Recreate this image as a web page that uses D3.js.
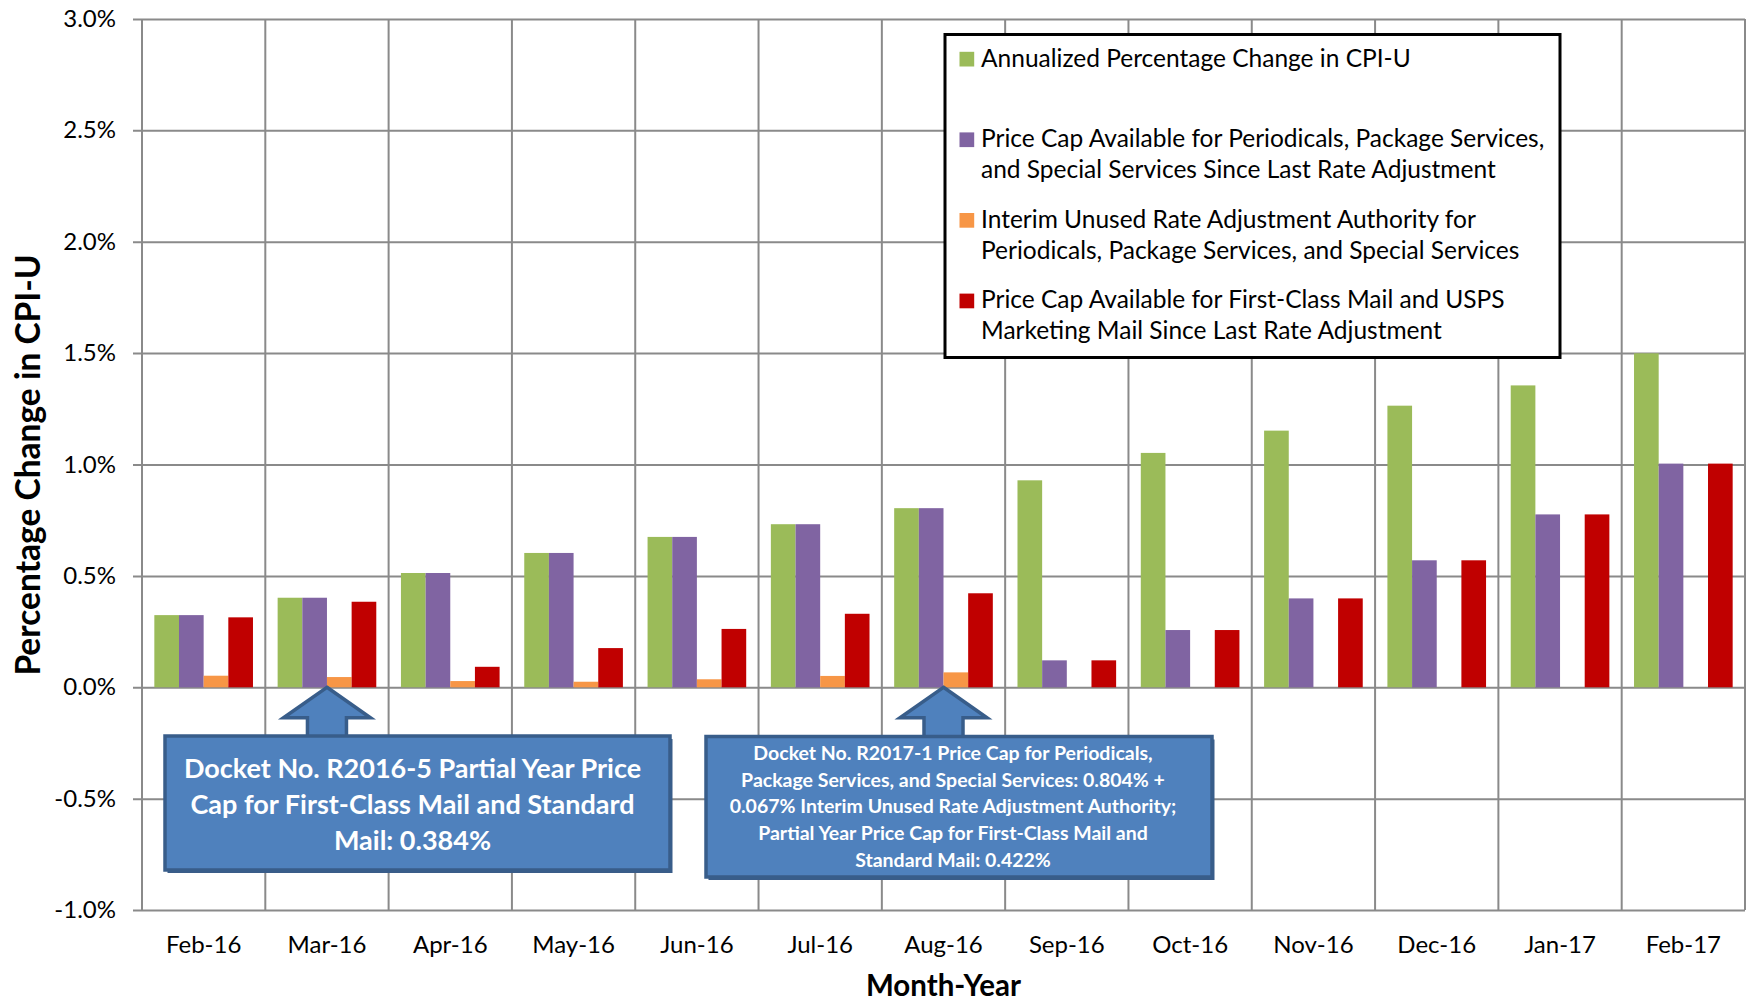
<!DOCTYPE html>
<html>
<head>
<meta charset="utf-8">
<script src="https://d3js.org/d3.v7.min.js"></script>
<style>
  body { margin: 0; background: #fff; }
  svg text { font-family: Lato, "Open Sans", sans-serif; }
</style>
</head>
<body>
<div id="chart"></div>
<script>
const months = ["Feb-16", "Mar-16", "Apr-16", "May-16", "Jun-16", "Jul-16", "Aug-16",
  "Sep-16", "Oct-16", "Nov-16", "Dec-16", "Jan-17", "Feb-17"];

// all values in percent
const cpiChange = [0.324, 0.402, 0.513, 0.603, 0.675, 0.732, 0.804, 0.929, 1.052, 1.152, 1.264, 1.355, 1.499];
const capPeriodicals = [0.324, 0.402, 0.513, 0.603, 0.675, 0.732, 0.804, 0.121, 0.257, 0.399, 0.570, 0.776, 1.004];
const unusedAuthority = [0.052, 0.046, 0.028, 0.025, 0.036, 0.051, 0.067, 0, 0, 0, 0, 0, 0];
const capFirstClass = [0.314, 0.384, 0.092, 0.176, 0.262, 0.330, 0.422, 0.121, 0.257, 0.399, 0.570, 0.776, 1.004];

const seriesNames = [
  ["Annualized Percentage Change in CPI-U"],
  ["Price Cap Available for Periodicals, Package Services,", "and Special Services Since Last Rate Adjustment"],
  ["Interim Unused Rate Adjustment Authority for", "Periodicals, Package Services, and Special Services"],
  ["Price Cap Available for First-Class Mail and USPS", "Marketing Mail Since Last Rate Adjustment"]
];
const seriesColors = ["#9bbb59", "#8064a2", "#f79646", "#c00000"];

const yTicks = [-1, -0.5, 0, 0.5, 1, 1.5, 2, 2.5, 3];

const notes = [
  { month: "Mar-16", lines: ["Docket No. R2016-5 Partial Year Price", "Cap for First-Class Mail and Standard", "Mail: 0.384%"] },
  { month: "Aug-16", lines: ["Docket No. R2017-1 Price Cap for Periodicals,", "Package Services, and Special Services: 0.804% +",
    "0.067% Interim Unused Rate Adjustment Authority;", "Partial Year Price Cap for First-Class Mail and", "Standard Mail: 0.422%"] }
];

const width = 1747;
const height = 1003;
const plot = { left: 142, right: 1745, top: 18.9, bottom: 910.1 };

const svg = d3.select("#chart")
  .append("svg")
  .attr("width", width)
  .attr("height", height)
  .attr("viewBox", [0, 0, width, height]);

const series = [cpiChange, capPeriodicals, unusedAuthority, capFirstClass];

const x = d3.scaleBand().domain(months).range([plot.left, plot.right]);
const xInner = d3.scaleBand().domain(d3.range(series.length))
  .range([0, x.bandwidth()]).paddingOuter(0.5);
const y = d3.scaleLinear().domain([-1, 3]).range([plot.bottom, plot.top]);

const gridColor = "#8a8a8a";

// vertical gridlines on category boundaries
const bounds = months.map(m => x(m)).concat(plot.right);
svg.append("g")
  .selectAll("line")
  .data(bounds)
  .join("line")
  .attr("x1", d => d).attr("x2", d => d)
  .attr("y1", plot.top).attr("y2", plot.bottom)
  .attr("stroke", gridColor)
  .attr("stroke-width", 2);

// y axis with horizontal gridlines
const yAxis = svg.append("g")
  .attr("transform", `translate(${plot.left - 9},0)`)
  .call(d3.axisLeft(y)
    .tickValues(yTicks)
    .tickSize(-(plot.right - plot.left + 9))
    .tickPadding(17)
    .tickFormat(d => d.toFixed(1) + "%"));
yAxis.select(".domain").remove();
yAxis.selectAll(".tick line").attr("stroke", gridColor).attr("stroke-width", 2);
yAxis.selectAll(".tick text")
  .attr("font-size", 24)
  .attr("font-family", "Lato, 'Open Sans', sans-serif")
  .attr("fill", "#000");

// x axis labels
const xAxis = svg.append("g")
  .attr("transform", `translate(0,${plot.bottom})`)
  .call(d3.axisBottom(x).tickSize(0).tickPadding(26));
xAxis.select(".domain").remove();
xAxis.selectAll(".tick text")
  .attr("font-size", 24)
  .attr("font-family", "Lato, 'Open Sans', sans-serif")
  .attr("fill", "#000");

// bars
svg.append("g")
  .selectAll("g")
  .data(series)
  .join("g")
  .attr("fill", (d, i) => seriesColors[i])
  .each(function(values, si) {
    d3.select(this).selectAll("rect")
      .data(values.map((v, mi) => ({ month: months[mi], value: v })))
      .join("rect")
      .attr("x", d => x(d.month) + xInner(si))
      .attr("width", xInner.bandwidth())
      .attr("y", d => y(Math.max(0, d.value)))
      .attr("height", d => Math.abs(y(d.value) - y(0)));
  });

// legend
const legend = svg.append("g");
legend.append("rect")
  .attr("x", 945).attr("y", 34.5)
  .attr("width", 615).attr("height", 323)
  .attr("fill", "#fff")
  .attr("stroke", "#000")
  .attr("stroke-width", 3);

const entry = legend.selectAll("g.entry")
  .data(seriesNames)
  .join("g")
  .attr("class", "entry")
  .attr("transform", (d, i) => `translate(959.5,${66.5 + i * 80.6})`);

entry.append("rect")
  .attr("x", 0).attr("y", -14.7)
  .attr("width", 14.7).attr("height", 14.7)
  .attr("fill", (d, i) => seriesColors[i]);

entry.append("text")
  .attr("x", 21.5)
  .attr("font-size", 24.5)
  .attr("fill", "#000")
  .selectAll("tspan")
  .data(d => d)
  .join("tspan")
  .attr("x", 21.5)
  .attr("y", (d, i) => i * 31)
  .text(d => d);

// annotation callouts
const noteLayout = [
  { box: [165, 736, 505, 134], size: 27, gap: 35.8, first: 778.3, shift: -5 },
  { box: [706, 736.5, 506, 140.5], size: 19.5, gap: 26.7, first: 760, shift: -6 }
];

notes.forEach((note, i) => {
  const lay = noteLayout[i];
  const [bx, by, bw, bh] = lay.box;
  const tx = x(note.month) + x.bandwidth() / 2;
  const ty = y(0);
  const g = svg.append("g");

  const arrow = d3.path();
  arrow.moveTo(tx, ty);
  arrow.lineTo(tx + 43.5, ty + 30.4);
  arrow.lineTo(tx + 19.5, ty + 30.4);
  arrow.lineTo(tx + 19.5, by + 2);
  arrow.lineTo(tx - 19.5, by + 2);
  arrow.lineTo(tx - 19.5, ty + 30.4);
  arrow.lineTo(tx - 43.5, ty + 30.4);
  arrow.closePath();

  g.append("path")
    .attr("d", arrow.toString())
    .attr("fill", "#4f81bd")
    .attr("stroke", "#385d8a")
    .attr("stroke-width", 3.5)
    .attr("stroke-linejoin", "miter");

  // shadow
  g.append("rect")
    .attr("x", bx + 2.5).attr("y", by + 3)
    .attr("width", bw).attr("height", bh)
    .attr("fill", "#3a5c88");

  g.append("rect")
    .attr("x", bx).attr("y", by)
    .attr("width", bw).attr("height", bh)
    .attr("fill", "#4f81bd")
    .attr("stroke", "#385d8a")
    .attr("stroke-width", 3.5);

  g.append("text")
    .attr("text-anchor", "middle")
    .attr("font-size", lay.size)
    .attr("font-weight", "bold")
    .attr("fill", "#fff")
    .selectAll("tspan")
    .data(note.lines)
    .join("tspan")
    .attr("x", bx + bw / 2 + lay.shift)
    .attr("y", (d, j) => lay.first + j * lay.gap)
    .text(d => d);
});

// axis titles
svg.append("text")
  .attr("transform", `translate(27,465) rotate(-90)`)
  .attr("text-anchor", "middle")
  .attr("dominant-baseline", "central")
  .attr("font-size", 33.5)
  .attr("font-weight", "bold")
  .attr("fill", "#000")
  .text("Percentage Change in CPI-U");

svg.append("text")
  .attr("x", (plot.left + plot.right) / 2)
  .attr("y", 996)
  .attr("text-anchor", "middle")
  .attr("font-size", 29.5)
  .attr("font-weight", "bold")
  .attr("fill", "#000")
  .text("Month-Year");
</script>
</body>
</html>
